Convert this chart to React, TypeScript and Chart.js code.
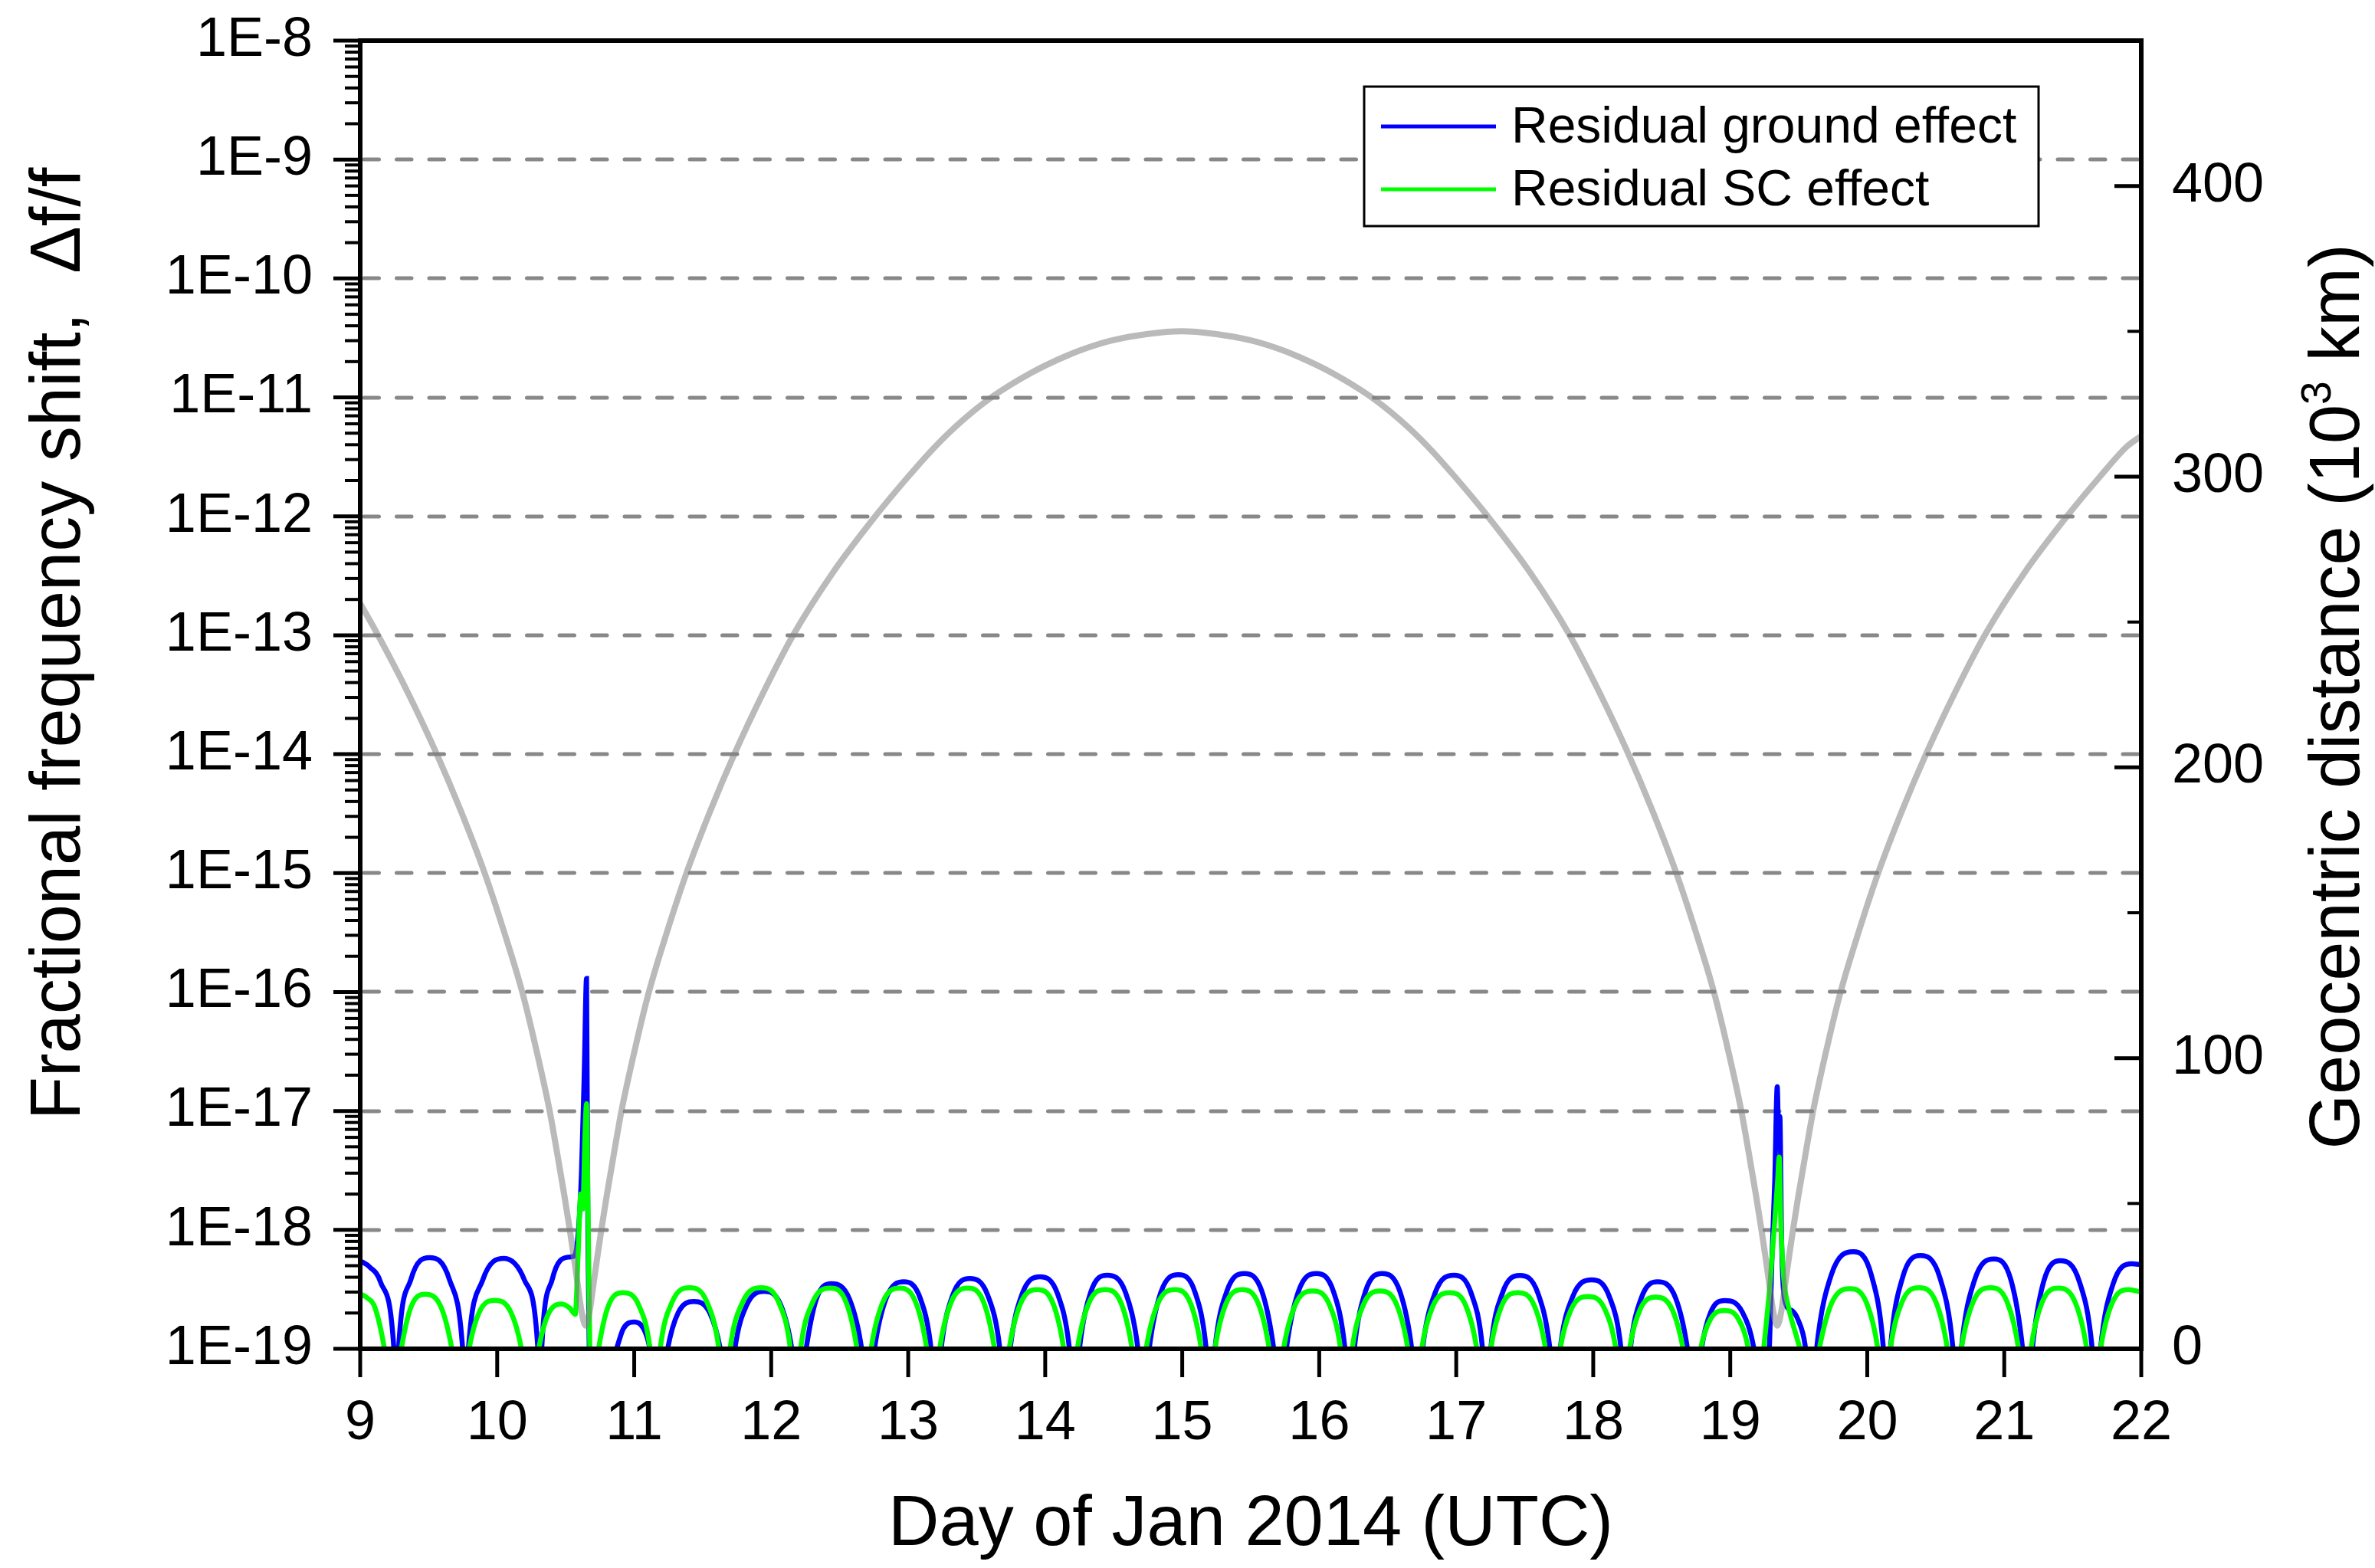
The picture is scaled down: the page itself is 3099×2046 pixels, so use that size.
import React, { useEffect, useRef } from 'react';
import { Chart, registerables } from 'chart.js';

Chart.register(...registerables);

const FONT = '"Liberation Sans", Arial, Helvetica, sans-serif';
const W = 3099;
const H = 2046;
const AREA = { left: 470, right: 2794, top: 53, bottom: 1760 };

// ---------- tick / label arrays ----------
const dayTicks = [9, 10, 11, 12, 13, 14, 15, 16, 17, 18, 19, 20, 21, 22];
const decadeTicks = [1e-19, 1e-18, 1e-17, 1e-16, 1e-15, 1e-14, 1e-13, 1e-12, 1e-11, 1e-10, 1e-9, 1e-8];
const gridDecades = [1e-18, 1e-17, 1e-16, 1e-15, 1e-14, 1e-13, 1e-12, 1e-11, 1e-10, 1e-9];
const minorMultipliers = [2, 3, 4, 5, 6, 7, 8, 9];
const distMajorTicks = [0, 100, 200, 300, 400];
const distMinorTicks = [50, 150, 250, 350];

const xTitle = 'Day of Jan 2014 (UTC)';
const yTitle = 'Fractional frequency shift,  \u0394f/f';
const y2TitleParts = ['Geocentric distance (10', '3', ' km)'];
const seriesLabels = ['Residual ground effect', 'Residual SC effect', 'Geocentric distance'];

// ---------- data: [day, value] ----------
const residualGround: [number, number][] = [
  [9.0, 5.5e-19], [9.069, 4.88e-19], [9.148, 3.65e-19], [9.246, 1e-19], [9.263, 3e-20],
  [9.28, 1e-19], [9.37, 3.83e-19], [9.506, 5.85e-19], [9.651, 3.83e-19], [9.748, 1e-19], [9.769, 3e-20],
  [9.79, 1e-19], [9.894, 3.78e-19], [10.051, 5.75e-19], [10.199, 3.78e-19], [10.297, 1e-19], [10.311, 3e-20],
  [10.325, 1e-19], [10.402, 3.85e-19], [10.517, 5.9e-19], [10.56, 6.0e-19], [10.59, 9e-19], [10.615, 3e-18],
  [10.635, 2e-17], [10.652, 1.3e-16], [10.662, 1e-18], [10.672, 1e-19], [10.68, 3e-20],
  [10.87, 1e-19], [10.921, 1.48e-19], [10.998, 1.68e-19], [11.068, 1.48e-19], [11.115, 1e-19], [11.18, 3e-20],
  [11.244, 1e-19], [11.321, 2.01e-19], [11.436, 2.5e-19], [11.551, 2.01e-19], [11.628, 1e-19], [11.69, 3e-20],
  [11.735, 1e-19], [11.821, 2.33e-19], [11.949, 3.04e-19], [12.07, 2.33e-19], [12.15, 1e-19], [12.2, 3e-20],
  [12.255, 1e-19], [12.329, 2.61e-19], [12.44, 3.53e-19], [12.572, 2.61e-19], [12.66, 1e-19], [12.707, 3e-20],
  [12.754, 1e-19], [12.84, 2.68e-19], [12.968, 3.66e-19], [13.087, 2.68e-19], [13.167, 1e-19], [13.203, 3e-20],
  [13.24, 1e-19], [13.324, 2.81e-19], [13.449, 3.9e-19], [13.581, 2.81e-19], [13.669, 1e-19], [13.706, 3e-20],
  [13.744, 1e-19], [13.831, 2.88e-19], [13.962, 4.03e-19], [14.091, 2.88e-19], [14.177, 1e-19], [14.213, 3e-20],
  [14.25, 1e-19], [14.331, 2.96e-19], [14.453, 4.16e-19], [14.587, 2.96e-19], [14.677, 1e-19], [14.718, 3e-20],
  [14.759, 1e-19], [14.844, 2.98e-19], [14.972, 4.2e-19], [15.094, 2.98e-19], [15.175, 1e-19], [15.207, 3e-20],
  [15.239, 1e-19], [15.325, 3.03e-19], [15.453, 4.3e-19], [15.582, 3.03e-19], [15.668, 1e-19], [15.715, 3e-20],
  [15.76, 1e-19], [15.848, 3.03e-19], [15.979, 4.3e-19], [16.104, 3.03e-19], [16.188, 1e-19], [16.222, 3e-20],
  [16.256, 1e-19], [16.337, 3.03e-19], [16.459, 4.3e-19], [16.589, 3.03e-19], [16.675, 1e-19], [16.715, 3e-20],
  [16.754, 1e-19], [16.846, 2.96e-19], [16.983, 4.16e-19], [17.108, 2.96e-19], [17.192, 1e-19], [17.222, 3e-20],
  [17.252, 1e-19], [17.337, 2.94e-19], [17.464, 4.14e-19], [17.596, 2.94e-19], [17.684, 1e-19], [17.722, 3e-20],
  [17.759, 1e-19], [17.851, 2.76e-19], [17.989, 3.8e-19], [18.117, 2.76e-19], [18.203, 1e-19], [18.237, 3e-20],
  [18.271, 1e-19], [18.351, 2.68e-19], [18.47, 3.66e-19], [18.601, 2.68e-19], [18.688, 1e-19], [18.739, 3e-20],
  [18.79, 1e-19], [18.858, 2.04e-19], [18.96, 2.55e-19], [19.088, 2.04e-19], [19.173, 1e-19], [19.23, 3e-20],
  [19.285, 1e-19], [19.305, 6e-19], [19.325, 2.6e-18], [19.343, 1.6e-17], [19.354, 6e-18], [19.362, 9e-18],
  [19.375, 8e-19], [19.4, 2.5e-19], [19.45, 2.1e-19], [19.5, 1.7e-19], [19.545, 1.1e-19], [19.595, 3e-20],
  [19.63, 1e-19], [19.737, 4.17e-19], [19.898, 6.55e-19], [20.03, 4.17e-19], [20.118, 1e-19], [20.143, 3e-20],
  [20.169, 1e-19], [20.257, 3.94e-19], [20.388, 6.08e-19], [20.531, 3.94e-19], [20.626, 1e-19], [20.656, 3e-20],
  [20.687, 1e-19], [20.782, 3.75e-19], [20.925, 5.7e-19], [21.05, 3.75e-19], [21.134, 1e-19], [21.17, 3e-20],
  [21.205, 1e-19], [21.287, 3.65e-19], [21.409, 5.5e-19], [21.549, 3.65e-19], [21.642, 1e-19], [21.672, 3e-20],
  [21.703, 1e-19], [21.794, 3.5e-19], [21.93, 5.2e-19], [22.0, 5.1e-19],
];

const residualSC: [number, number][] = [
  [9.0, 2.9e-19], [9.05, 2.69e-19], [9.106, 2.25e-19], [9.177, 1e-19], [9.238, 3e-20],
  [9.3, 1e-19], [9.37, 2.23e-19], [9.474, 2.88e-19], [9.591, 2.23e-19], [9.669, 1e-19], [9.732, 3e-20],
  [9.795, 1e-19], [9.87, 2.04e-19], [9.983, 2.56e-19], [10.099, 2.04e-19], [10.177, 1e-19], [10.24, 3e-20],
  [10.303, 1e-19], [10.37, 1.93e-19], [10.468, 2.38e-19], [10.53, 2.2e-19], [10.57, 1.95e-19], [10.59, 6e-19],
  [10.61, 2e-18], [10.625, 1.5e-18], [10.64, 6e-18], [10.652, 1.15e-17], [10.66, 3e-18], [10.668, 5e-19],
  [10.676, 1e-19], [10.683, 3e-20],
  [10.74, 1e-19], [10.811, 2.29e-19], [10.917, 2.97e-19], [11.036, 2.29e-19], [11.115, 1e-19], [11.153, 3e-20],
  [11.19, 1e-19], [11.276, 2.46e-19], [11.404, 3.27e-19], [11.532, 2.46e-19], [11.618, 1e-19], [11.66, 3e-20],
  [11.7, 1e-19], [11.791, 2.46e-19], [11.927, 3.27e-19], [12.055, 2.46e-19], [12.14, 1e-19], [12.178, 3e-20],
  [12.215, 1e-19], [12.301, 2.44e-19], [12.43, 3.24e-19], [12.548, 2.44e-19], [12.626, 1e-19], [12.678, 3e-20],
  [12.729, 1e-19], [12.813, 2.44e-19], [12.938, 3.24e-19], [13.056, 2.44e-19], [13.135, 1e-19], [13.183, 3e-20],
  [13.23, 1e-19], [13.312, 2.44e-19], [13.434, 3.24e-19], [13.552, 2.44e-19], [13.63, 1e-19], [13.684, 3e-20],
  [13.737, 1e-19], [13.819, 2.39e-19], [13.942, 3.15e-19], [14.058, 2.39e-19], [14.135, 1e-19], [14.185, 3e-20],
  [14.235, 1e-19], [14.316, 2.39e-19], [14.438, 3.15e-19], [14.556, 2.39e-19], [14.634, 1e-19], [14.686, 3e-20],
  [14.737, 1e-19], [14.821, 2.39e-19], [14.947, 3.15e-19], [15.062, 2.39e-19], [15.139, 1e-19], [15.189, 3e-20],
  [15.239, 1e-19], [15.319, 2.39e-19], [15.438, 3.15e-19], [15.556, 2.39e-19], [15.635, 1e-19], [15.688, 3e-20],
  [15.74, 1e-19], [15.825, 2.34e-19], [15.953, 3.07e-19], [16.075, 2.34e-19], [16.156, 1e-19], [16.199, 3e-20],
  [16.241, 1e-19], [16.322, 2.34e-19], [16.444, 3.07e-19], [16.566, 2.34e-19], [16.647, 1e-19], [16.698, 3e-20],
  [16.748, 1e-19], [16.83, 2.29e-19], [16.953, 2.97e-19], [17.071, 2.29e-19], [17.15, 1e-19], [17.201, 3e-20],
  [17.252, 1e-19], [17.331, 2.29e-19], [17.449, 2.97e-19], [17.571, 2.29e-19], [17.652, 1e-19], [17.706, 3e-20],
  [17.759, 1e-19], [17.84, 2.16e-19], [17.962, 2.75e-19], [18.084, 2.16e-19], [18.165, 1e-19], [18.215, 3e-20],
  [18.265, 1e-19], [18.342, 2.14e-19], [18.457, 2.72e-19], [18.576, 2.14e-19], [18.656, 1e-19], [18.72, 3e-20],
  [18.784, 1e-19], [18.854, 1.76e-19], [18.958, 2.1e-19], [19.062, 1.76e-19], [19.132, 1e-19], [19.19, 3e-20],
  [19.244, 1e-19], [19.29, 3.5e-19], [19.32, 1e-18], [19.345, 2.5e-18], [19.357, 4.1e-18], [19.37, 1.1e-18],
  [19.39, 4e-19], [19.427, 2.2e-19], [19.488, 1.22e-19], [19.508, 1e-19], [19.58, 3e-20],
  [19.65, 1e-19], [19.74, 2.42e-19], [19.874, 3.2e-19], [19.996, 2.42e-19], [20.077, 1e-19], [20.123, 3e-20],
  [20.169, 1e-19], [20.253, 2.46e-19], [20.378, 3.27e-19], [20.502, 2.46e-19], [20.585, 1e-19], [20.636, 3e-20],
  [20.687, 1e-19], [20.772, 2.46e-19], [20.9, 3.27e-19], [21.022, 2.46e-19], [21.104, 1e-19], [21.15, 3e-20],
  [21.195, 1e-19], [21.275, 2.44e-19], [21.394, 3.24e-19], [21.519, 2.44e-19], [21.602, 1e-19], [21.652, 3e-20],
  [21.703, 1e-19], [21.785, 2.39e-19], [21.907, 3.15e-19], [22.0, 3.0e-19],
];

// geocentric distance, 10^3 km
const geocentricDistance: [number, number][] = [
  [9.0, 256.4], [9.125, 245.9], [9.345, 226], [9.555, 205], [9.735, 185], [9.905, 164.1],
  [10.05, 143.5], [10.183, 122.7], [10.285, 103], [10.383, 81.8], [10.435, 68], [10.49, 52.8],
  [10.53, 40.9], [10.555, 33], [10.585, 23], [10.615, 13], [10.645, 8],
  [10.675, 13], [10.705, 23], [10.735, 33], [10.76, 40.9], [10.8, 52.8], [10.855, 68],
  [10.907, 81.8], [11.005, 103], [11.107, 122.7], [11.24, 143.5], [11.385, 164.1], [11.555, 185],
  [11.735, 205], [11.945, 226], [12.165, 245.9],
  [12.45, 267], [12.767, 286.8], [13.0, 300], [13.2, 310.5], [13.4, 319.5], [13.623, 327.8],
  [13.9, 335.8], [14.137, 341.2], [14.3, 344.2], [14.5, 347], [14.75, 349.1], [14.995, 350],
  [15.24, 349.1], [15.49, 347], [15.69, 344.2], [15.853, 341.2], [16.09, 335.8], [16.367, 327.8],
  [16.59, 319.5], [16.79, 310.5], [16.99, 300], [17.223, 286.8], [17.54, 267],
  [17.823, 245.9], [18.043, 226], [18.253, 205], [18.433, 185], [18.603, 164.1], [18.748, 143.5],
  [18.881, 122.7], [18.983, 103], [19.081, 81.8], [19.133, 68], [19.188, 52.8], [19.228, 40.9],
  [19.253, 33], [19.283, 23], [19.313, 13], [19.343, 8],
  [19.373, 13], [19.403, 23], [19.433, 33], [19.458, 40.9], [19.498, 52.8], [19.553, 68],
  [19.605, 81.8], [19.703, 103], [19.805, 122.7], [19.938, 143.5], [20.083, 164.1], [20.253, 185],
  [20.433, 205], [20.643, 226], [20.863, 245.9], [21.148, 267], [21.465, 286.8], [21.698, 300],
  [21.898, 310.5], [22.0, 314],
];

const toXY = (arr: [number, number][]) => arr.map(([x, y]) => ({ x, y }));

const GRID_COLOR = '#888888';

const framePlugin = {
  id: 'frameAxes',
  beforeDatasetsDraw(chart: any) {
    const { ctx, chartArea: a } = chart;
    const y = chart.scales.y;
    ctx.save();
    ctx.strokeStyle = GRID_COLOR;
    ctx.lineWidth = 5;
    ctx.lineCap = 'round';
    ctx.setLineDash([19.5, 23]);
    for (const v of gridDecades) {
      const py = Math.round(y.getPixelForValue(v));
      ctx.beginPath();
      ctx.moveTo(a.left + 5, py);
      ctx.lineTo(a.right - 3, py);
      ctx.stroke();
    }
    ctx.restore();
  },
  afterDatasetsDraw(chart: any) {
    const { ctx, chartArea: a } = chart;
    const xs = chart.scales.x;
    const ys = chart.scales.y;
    const y2 = chart.scales.y2;
    const line = (x1: number, y1: number, x2: number, yb: number) => {
      ctx.beginPath();
      ctx.moveTo(x1, y1);
      ctx.lineTo(x2, yb);
      ctx.stroke();
    };
    ctx.save();
    ctx.strokeStyle = '#000';
    ctx.lineCap = 'butt';
    ctx.setLineDash([]);

    // left log axis ticks (outward)
    ctx.lineWidth = 5;
    for (const v of decadeTicks) {
      const py = ys.getPixelForValue(v);
      line(a.left - 35, py, a.left, py);
    }
    ctx.lineWidth = 4;
    for (let i = 0; i < decadeTicks.length - 1; i++) {
      for (const m of minorMultipliers) {
        const py = ys.getPixelForValue(decadeTicks[i] * m);
        line(a.left - 20, py, a.left, py);
      }
    }
    // right axis ticks (inward)
    ctx.lineWidth = 5;
    for (const v of distMajorTicks) {
      const py = y2.getPixelForValue(v);
      line(a.right - 35, py, a.right, py);
    }
    ctx.lineWidth = 4;
    for (const v of distMinorTicks) {
      const py = y2.getPixelForValue(v);
      line(a.right - 18, py, a.right, py);
    }
    // bottom axis ticks (outward)
    ctx.lineWidth = 5;
    for (const d of dayTicks) {
      const px = xs.getPixelForValue(d);
      line(px, a.bottom, px, a.bottom + 37);
    }
    // frame
    ctx.lineWidth = 6;
    ctx.lineJoin = 'miter';
    ctx.strokeRect(a.left, a.top, a.right - a.left, a.bottom - a.top);

    // legend
    const lx = 1780, ly = 113, lw = 880, lh = 182;
    ctx.fillStyle = '#fff';
    ctx.fillRect(lx, ly, lw, lh);
    ctx.lineWidth = 3;
    ctx.strokeStyle = '#000';
    ctx.strokeRect(lx, ly, lw, lh);
    const rows = [165, 247];
    ctx.font = `66px ${FONT}`;
    ctx.textBaseline = 'middle';
    ctx.textAlign = 'left';
    for (let i = 0; i < 2; i++) {
      const ds = chart.data.datasets[i];
      ctx.strokeStyle = ds.borderColor;
      ctx.lineWidth = 5;
      line(1802, rows[i], 1952, rows[i]);
      ctx.fillStyle = '#000';
      ctx.fillText(ds.label, 1972, rows[i] + 3);
    }

    // axis titles
    ctx.fillStyle = '#000';
    ctx.textBaseline = 'alphabetic';
    ctx.font = `92px ${FONT}`;
    ctx.textAlign = 'center';
    ctx.fillText(xTitle, (a.left + a.right) / 2, 2016);

    ctx.save();
    ctx.translate(104, 840);
    ctx.rotate(-Math.PI / 2);
    ctx.textAlign = 'center';
    ctx.font = `92px ${FONT}`;
    ctx.fillText(yTitle, 0, 0);
    ctx.restore();

    ctx.save();
    ctx.translate(3078, 909);
    ctx.rotate(-Math.PI / 2);
    ctx.textAlign = 'left';
    const big = `92px ${FONT}`;
    const small = `55px ${FONT}`;
    ctx.font = big;
    const w1 = ctx.measureText(y2TitleParts[0]).width;
    const w3 = ctx.measureText(y2TitleParts[2]).width;
    ctx.font = small;
    const w2 = ctx.measureText(y2TitleParts[1]).width;
    let tx = -(w1 + w2 + w3) / 2;
    ctx.font = big;
    ctx.fillText(y2TitleParts[0], tx, 0);
    tx += w1;
    ctx.font = small;
    ctx.fillText(y2TitleParts[1], tx, -37);
    tx += w2;
    ctx.font = big;
    ctx.fillText(y2TitleParts[2], tx, 0);
    ctx.restore();

    ctx.restore();
  },
};

const zeroVerticalPadding = (s: any) => {
  s.paddingTop = 0;
  s.paddingBottom = 0;
};

export default function App() {
  const canvasRef = useRef<HTMLCanvasElement | null>(null);

  useEffect(() => {
    document.body.style.margin = '0';
    const canvas = canvasRef.current;
    if (!canvas) return;
    const tickFont = { family: FONT, size: 72 };
    const chart = new Chart(canvas, {
      type: 'line',
      data: {
        datasets: [
          {
            label: seriesLabels[0],
            data: toXY(residualGround),
            borderColor: '#0000FF',
            borderWidth: 6.5,
            pointRadius: 0,
            cubicInterpolationMode: 'monotone',
            capBezierPoints: false,
            yAxisID: 'y',
            order: 2,
          } as any,
          {
            label: seriesLabels[1],
            data: toXY(residualSC),
            borderColor: '#00FF00',
            borderWidth: 6.5,
            pointRadius: 0,
            cubicInterpolationMode: 'monotone',
            capBezierPoints: false,
            yAxisID: 'y',
            order: 1,
          } as any,
          {
            label: seriesLabels[2],
            data: toXY(geocentricDistance),
            borderColor: 'rgba(130,130,130,0.55)',
            borderWidth: 8,
            pointRadius: 0,
            cubicInterpolationMode: 'monotone',
            capBezierPoints: false,
            yAxisID: 'y2',
            order: 0,
          } as any,
        ],
      },
      options: {
        responsive: false,
        animation: false,
        devicePixelRatio: 1,
        layout: { padding: { top: AREA.top, left: 0, right: 0, bottom: 0 } },
        plugins: {
          legend: { display: false },
          tooltip: { enabled: false },
          title: { display: false },
        },
        scales: {
          x: {
            type: 'linear',
            position: 'bottom',
            min: 9,
            max: 22,
            afterBuildTicks: (s: any) => {
              s.ticks = dayTicks.map((v) => ({ value: v }));
            },
            afterFit: (s: any) => {
              s.height = H - AREA.bottom;
              s.paddingLeft = 0;
              s.paddingRight = 0;
            },
            grid: { display: false, drawTicks: false },
            border: { display: false },
            ticks: {
              font: tickFont,
              color: '#000',
              padding: 55,
              autoSkip: false,
              maxRotation: 0,
              callback: (v: any) => String(v),
            },
          },
          y: {
            type: 'logarithmic',
            position: 'left',
            min: 1e-19,
            max: 1e-8,
            afterBuildTicks: (s: any) => {
              s.ticks = decadeTicks.map((v) => ({ value: v }));
            },
            afterFit: (s: any) => {
              s.width = AREA.left;
              zeroVerticalPadding(s);
            },
            grid: { display: false, drawTicks: false },
            border: { display: false },
            ticks: {
              font: tickFont,
              color: '#000',
              padding: 62,
              autoSkip: false,
              callback: (v: any) => '1E' + Math.round(Math.log10(Number(v))),
            },
          },
          y2: {
            type: 'linear',
            position: 'right',
            min: 0,
            max: 450,
            afterBuildTicks: (s: any) => {
              s.ticks = distMajorTicks.map((v) => ({ value: v }));
            },
            afterFit: (s: any) => {
              s.width = W - AREA.right;
              zeroVerticalPadding(s);
            },
            grid: { display: false, drawTicks: false },
            border: { display: false },
            ticks: {
              font: tickFont,
              color: '#000',
              padding: 40,
              autoSkip: false,
              callback: (v: any) => String(v),
            },
          },
        },
      } as any,
      plugins: [framePlugin],
    });
    return () => chart.destroy();
  }, []);

  return (
    <div style={{ width: W, height: H, background: '#fff' }}>
      <canvas ref={canvasRef} width={W} height={H} style={{ display: 'block', width: W, height: H }} />
    </div>
  );
}
